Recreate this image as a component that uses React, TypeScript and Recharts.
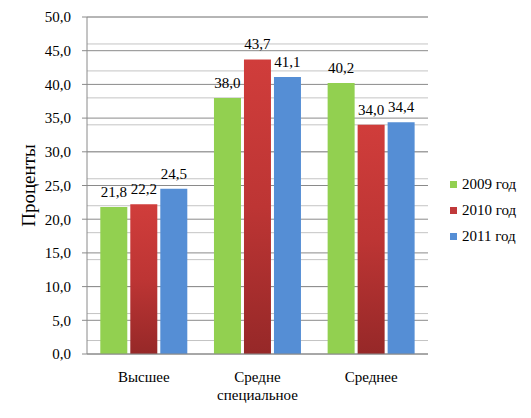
import React from 'react'
import {
  Bar,
  BarChart,
  CartesianGrid,
  LabelList,
  XAxis,
  YAxis,
} from 'recharts'

// ── Data ──────────────────────────────────────────────────────────────────────
const categories = ['Высшее', 'Средне специальное', 'Среднее']
const values2009 = [21.8, 38.0, 40.2]
const values2010 = [22.2, 43.7, 34.0]
const values2011 = [24.5, 41.1, 34.4]
const yTicks = [0, 5, 10, 15, 20, 25, 30, 35, 40, 45, 50]
const minorTicks = Array.from({ length: 51 }, (_, i) => i)

const series = [
  { key: 'y2009', name: '2009 год', fill: '#92d050', swatch: '#92d050' },
  { key: 'y2010', name: '2010 год', fill: 'url(#redGrad)', swatch: '#c0393a' },
  { key: 'y2011', name: '2011 год', fill: '#558ed5', swatch: '#558ed5' },
]

const data = categories.map((c, i) => ({
  name: c,
  y2009: values2009[i],
  y2010: values2010[i],
  y2011: values2011[i],
}))

const FONT = "'Liberation Serif', 'DejaVu Serif', serif"
const fmt = (v: number) => v.toFixed(1).replace('.', ',')

// Category label: wraps "Средне специальное" onto two lines
function CategoryTick({ x, y, payload }: any) {
  const words = String(payload.value).split(' ')
  return (
    <text x={x} y={y + 20} textAnchor="middle" style={{ fontFamily: FONT, fontSize: 15 }} fill="#000">
      {words.map((w, i) => (
        <tspan key={i} x={x} dy={i === 0 ? 0 : 18}>{w}</tspan>
      ))}
    </text>
  )
}

function AxisTitle({ viewBox }: any) {
  const cx = viewBox.x + 28
  const cy = viewBox.y + viewBox.height / 2
  return (
    <text
      x={cx}
      y={cy}
      transform={`rotate(-90, ${cx}, ${cy})`}
      textAnchor="middle"
      dominantBaseline="central"
      style={{ fontFamily: FONT, fontSize: 19 }}
      fill="#000"
    >
      Проценты
    </text>
  )
}

function LegendBox() {
  return (
    <div
      style={{
        position: 'absolute',
        left: 450,
        top: 171,
        fontFamily: FONT,
        fontSize: 15,
        color: '#000',
      }}
    >
      {series.map(s => (
        <div key={s.key} style={{ display: 'flex', alignItems: 'center', height: 26 }}>
          <span style={{ width: 7, height: 7, background: s.swatch, marginRight: 5 }} />
          {s.name}
        </div>
      ))}
    </div>
  )
}

export default function App() {
  return (
    <div style={{ position: 'absolute', left: 0, top: 0, width: 531, height: 418, background: '#fff' }}>
      <BarChart
        width={531}
        height={418}
        data={data}
        margin={{ top: 17, right: 103, bottom: 34, left: 0 }}
        barCategoryGap="11.7%"
        barGap={3}
      >
        <defs>
          <linearGradient id="redGrad" x1="0" y1="0" x2="0" y2="1">
            <stop offset="0%" stopColor="#d03d3b" />
            <stop offset="50%" stopColor="#bd3534" />
            <stop offset="100%" stopColor="#962828" />
          </linearGradient>
        </defs>
        <CartesianGrid vertical={false} horizontalValues={minorTicks} stroke="#c4c4c4" />
        <CartesianGrid vertical={false} horizontalValues={yTicks} stroke="#8a8a8a" />
        <XAxis
          dataKey="name"
          height={30}
          axisLine={{ stroke: '#8a8a8a' }}
          tickLine={false}
          tick={<CategoryTick />}
          interval={0}
        />
        <YAxis
          domain={[0, 50]}
          ticks={yTicks}
          width={87}
          tickSize={5}
          tickMargin={11}
          tickFormatter={fmt}
          axisLine={{ stroke: '#8a8a8a' }}
          tickLine={{ stroke: '#8a8a8a' }}
          tick={{ style: { fontFamily: FONT, fontSize: 15 }, fill: '#000' }}
          label={<AxisTitle />}
        />
        {series.map(s => (
          <Bar key={s.key} dataKey={s.key} name={s.name} fill={s.fill} isAnimationActive={false}>
            <LabelList
              dataKey={s.key}
              position="top"
              offset={10}
              formatter={(v: number) => fmt(v)}
              style={{ fontFamily: FONT, fontSize: 15, fill: '#000' }}
            />
          </Bar>
        ))}
      </BarChart>
      <LegendBox />
    </div>
  )
}
